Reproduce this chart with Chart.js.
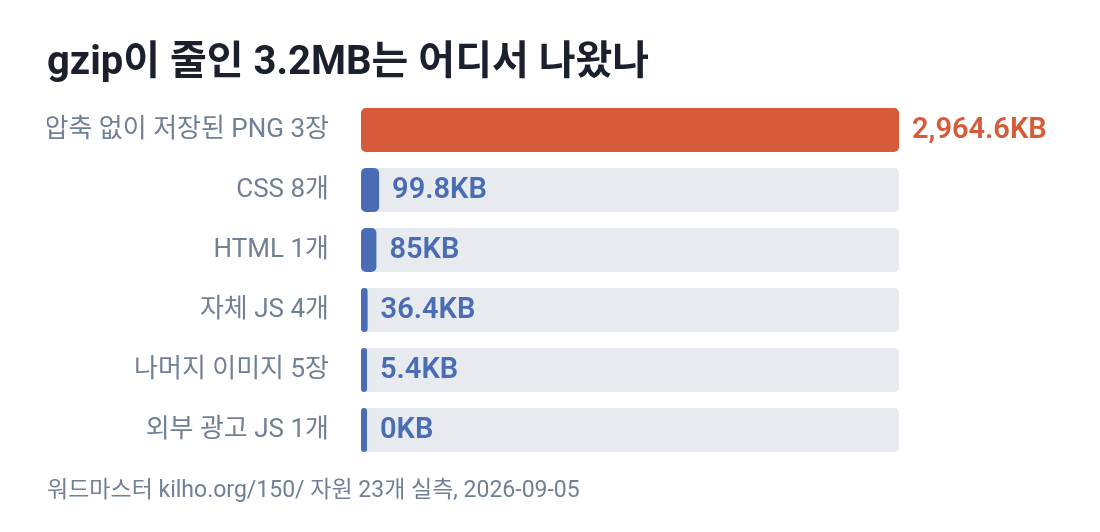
<!DOCTYPE html>
<html>
<head>
<meta charset="utf-8">
<script src="https://cdn.jsdelivr.net/npm/chart.js@4"></script>
<style>
  html, body { margin: 0; padding: 0; background: #ffffff; }
  #wrap { width: 1100px; height: 532px; }
</style>
</head>
<body>
<div id="wrap"><canvas id="myChart"></canvas></div>
<script>
// 데이터
const categories = ['압축 없이 저장된 PNG 3장', 'CSS 8개', 'HTML 1개', '자체 JS 4개', '나머지 이미지 5장', '외부 광고 JS 1개'];
const savedKB = [2964.6, 99.8, 85, 36.4, 5.4, 0];
const barColors = ['#d65b3b', '#4a6cb4', '#4a6cb4', '#4a6cb4', '#4a6cb4', '#4a6cb4'];

const maxKB = Math.max(...savedKB);
const trackValues = categories.map(() => maxKB);

const FONT = "Roboto, 'Noto Sans CJK KR', sans-serif";

// 막대 끝에 값 표시
const valueLabels = {
    id: 'valueLabels',
    afterDatasetsDraw(chart) {
        const ctx = chart.ctx;
        const meta = chart.getDatasetMeta(0);
        ctx.save();
        ctx.font = "600 29px " + FONT;
        ctx.textBaseline = 'middle';
        ctx.textAlign = 'left';
        meta.data.forEach((bar, i) => {
            const v = savedKB[i];
            const text = v.toLocaleString('en-US', { maximumFractionDigits: 1 }) + 'KB';
            ctx.fillStyle = barColors[i];
            ctx.fillText(text, bar.x + 13, bar.y + 1);
        });
        ctx.restore();
    }
};

const ctx = document.getElementById('myChart').getContext('2d');
new Chart(ctx, {
    type: 'bar',
    data: {
        labels: categories,
        datasets: [
            {
                data: savedKB,
                backgroundColor: barColors,
                borderRadius: 5,
                borderSkipped: false,
                minBarLength: 6,
                grouped: false,
                categoryPercentage: 1,
                barPercentage: 44 / 60
            },
            {
                data: trackValues,
                backgroundColor: '#e7eaef',
                borderRadius: 5,
                borderSkipped: false,
                grouped: false,
                categoryPercentage: 1,
                barPercentage: 44 / 60
            }
        ]
    },
    options: {
        indexAxis: 'y',
        responsive: true,
        maintainAspectRatio: false,
        animation: false,
        layout: { padding: { left: 47, right: 201, top: 0, bottom: 0 } },
        scales: {
            x: {
                display: false,
                min: 0,
                max: maxKB
            },
            y: {
                grid: { display: false },
                border: { display: false },
                ticks: {
                    color: '#718096',
                    font: { family: FONT, size: 26 },
                    padding: 24
                },
                afterFit(scale) { scale.width = 314; }
            }
        },
        plugins: {
            legend: { display: false },
            tooltip: { enabled: false },
            title: {
                display: true,
                text: 'gzip이 줄인 3.2MB는 어디서 나왔나',
                align: 'start',
                color: '#1a202c',
                font: { family: FONT, size: 40, weight: 'bold', lineHeight: 1.2 },
                padding: { top: 40, bottom: 12 }
            },
            subtitle: {
                display: true,
                position: 'bottom',
                text: '워드마스터 kilho.org/150/ 자원 23개 실측, 2026-09-05',
                align: 'start',
                color: '#718096',
                font: { family: FONT, size: 23, lineHeight: 1.2 },
                padding: { top: 17.5, bottom: 26.9 }
            }
        }
    },
    plugins: [valueLabels]
});
</script>
</body>
</html>
